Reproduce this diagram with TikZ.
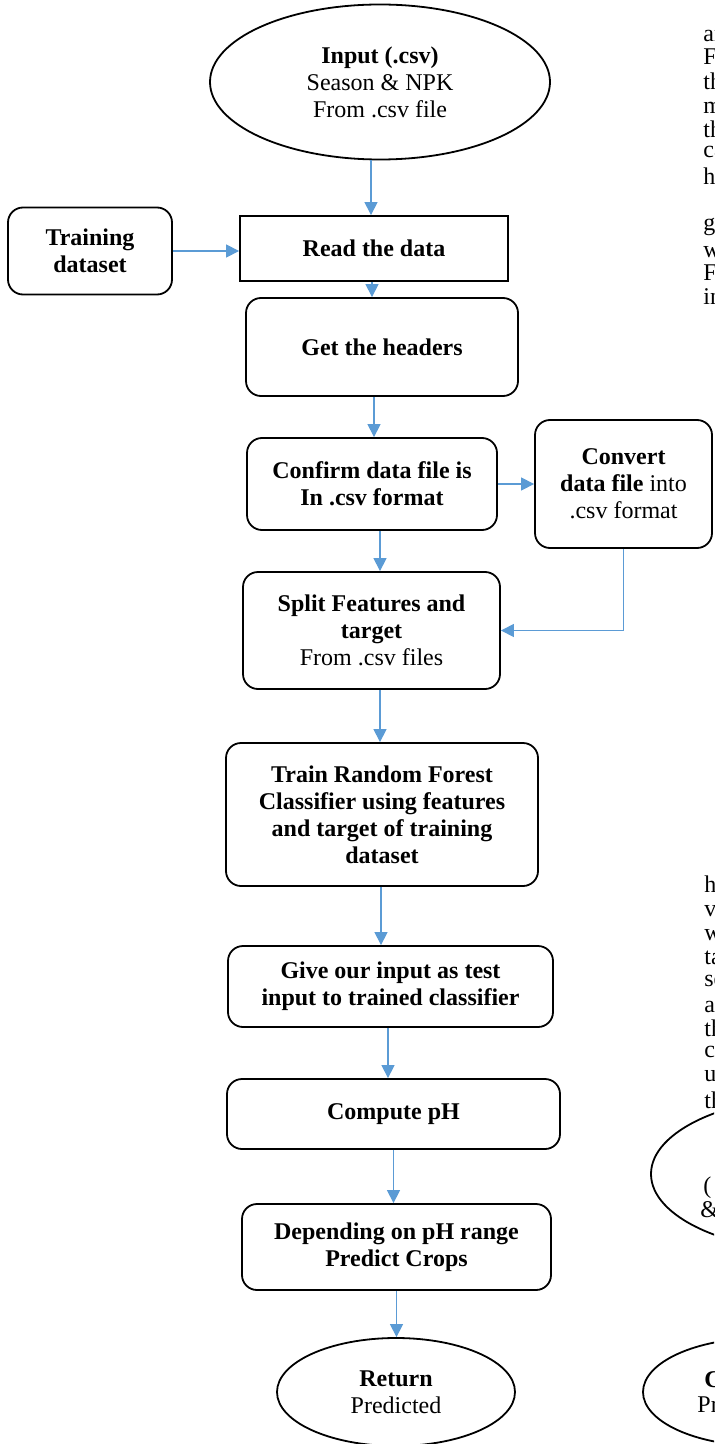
\documentclass[tikz,border=0pt,12pt]{standalone}
\usepackage{fontspec}
\setmainfont{Liberation Serif}
\usetikzlibrary{shapes.geometric,arrows.meta}
\definecolor{arrblue}{RGB}{91,155,213}
\tikzset{
  box/.style={draw,line width=0.9pt,rounded corners=7.5pt,align=center,inner sep=2pt,
    font=\fontsize{12}{13.5}\selectfont},
  plainbox/.style={box,rounded corners=0pt},
  io/.style={draw,line width=0.9pt,ellipse,align=center,inner sep=0pt,
    font=\fontsize{12}{13.5}\selectfont},
  arr/.style={arrblue,line width=0.6pt,-{Triangle[width=6.5pt,length=6.5pt]}},
  frag/.style={anchor=west,inner sep=0pt,font=\fontsize{12}{14}\selectfont}
}
\begin{document}
\begin{tikzpicture}[x=0.5pt,y=-0.5pt]
\useasboundingbox (0,0) rectangle (714,1444);
\node[io,minimum width=170pt,minimum height=77.5pt] (inp) at (380,82) {\textbf{Input (.csv)}\\Season \& NPK\\From .csv file};
\node[box,minimum width=82pt,minimum height=43.5pt] (trn) at (90,251) {\textbf{Training}\\\textbf{dataset}};
\node[plainbox,minimum width=134pt,minimum height=32.5pt] (rd) at (374,248.5) {\textbf{Read the data}};
\node[box,minimum width=136pt,minimum height=49pt] (hdr) at (382,347) {\textbf{Get the headers}};
\node[box,minimum width=125pt,minimum height=46pt] (conf) at (372,484) {\textbf{Confirm data file is}\\\textbf{In .csv format}};
\node[box,minimum width=88.5pt,minimum height=64pt] (conv) at (623.5,484) {\textbf{Convert}\\\textbf{data file} into\\.csv format};
\node[box,minimum width=128.5pt,minimum height=58.5pt] (spl) at (371.5,630.5) {\textbf{Split Features and}\\\textbf{target}\\From .csv files};
\node[box,minimum width=156pt,minimum height=71.5pt] (rf) at (382,814.5) {\textbf{Train Random Forest}\\\textbf{Classifier using features}\\\textbf{and target of training}\\\textbf{dataset}};
\node[box,minimum width=162.5pt,minimum height=40.5pt] (giv) at (390.5,986.5) {\textbf{Give our input as test}\\\textbf{input to trained classifier}};
\node[box,minimum width=166.5pt,minimum height=35pt] (cmp) at (393.5,1114) {\textbf{Compute pH}};
\node[box,minimum width=154.5pt,minimum height=43pt] (dep) at (396.5,1247) {\textbf{Depending on pH range}\\\textbf{Predict Crops}};
\node[io,minimum width=119pt,minimum height=54pt] (ret) at (396,1392) {\textbf{Return}\\Predicted};

% flow
\foreach \i/\j/\d in {inp/rd/-4.5pt,rd/hdr/-1pt,hdr/conf/-4pt,conf/spl/4pt,spl/rf/4.25pt,
                      rf/giv/-0.5pt,giv/cmp/-1.25pt,cmp/dep/0pt,dep/ret/0pt} {
  \draw[arr] ([xshift=\d]\i.south) -- ([xshift=\d]\i.south |- \j.north);
}
\draw[arr] (trn) -- (trn -| rd.west);
\draw[arr] (conf) -- (conv);
\draw[arr] (conv.south) |- (spl.east);

% cut-off neighbours at the right edge
\begin{scope}
\clip (0,0) rectangle (714,1444);
\node[io,minimum width=170pt,minimum height=78pt] (out1) at (821,1174) {};
\node[io,minimum width=119pt,minimum height=54pt] (out2) at (762,1392) {};
\node[frag] (p1) at (703,1188) {(};
\node[frag] (p2) at (700,1210) {\&};
\node[frag] (p3) at (704,1380) {\textbf{Co}};
\node[frag] (p4) at (697,1405) {Pre};
\foreach \y/\w [count=\k] in {33/and,57/For,81/the,105/model,129/the,152/can,176/has,
                              225/given,249/with,273/For,297/in} {
  \node[frag] (ta\k) at (703,\y) {\w};
}
\foreach \y/\w [count=\k] in {884/has,908/value,932/with,956/take,980/set,1004/and,
                              1028/the,1052/can,1076/use,1100/the} {
  \node[frag] (tb\k) at (704,\y) {\w};
}
\end{scope}
\end{tikzpicture}
\end{document}
